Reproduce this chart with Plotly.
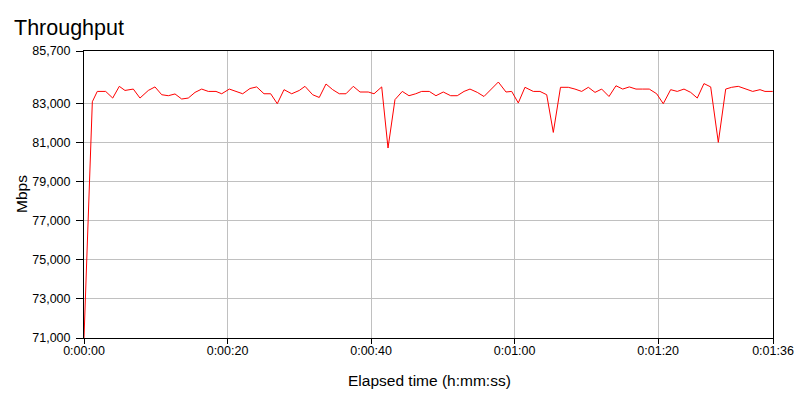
import plotly.graph_objects as go

# Elapsed time (seconds) and throughput (Mbps)
elapsed_s = [0.00, 1.16, 1.85, 3.02, 4.00, 4.92, 5.71, 6.87, 7.80, 8.96,
             9.89, 10.83, 11.75, 12.68, 13.61, 14.53, 15.47, 16.40, 17.32, 18.39,
             19.19, 20.25, 21.18, 22.11, 23.13, 24.06, 25.08, 26.01, 26.93, 27.87,
             28.94, 30.00, 30.79, 31.86, 32.78, 33.72, 34.65, 35.57, 36.50, 37.52,
             38.46, 39.61, 40.41, 41.48, 42.36, 43.33, 44.35, 45.28, 46.22, 47.05,
             48.11, 49.04, 50.06, 51.09, 52.01, 52.95, 53.78, 54.80, 55.73, 56.73,
             57.73, 58.80, 59.59, 60.51, 61.44, 62.60, 63.53, 64.47, 65.39, 66.39,
             67.48, 68.41, 69.34, 70.27, 71.20, 72.13, 73.15, 74.12, 75.06, 75.98,
             76.91, 77.84, 78.76, 79.79, 80.71, 81.74, 82.66, 83.60, 84.53, 85.45,
             86.38, 87.32, 88.38, 89.41, 90.24, 91.16, 92.10, 93.17, 94.19, 94.88,
             95.96]
throughput_mbps = [71000, 83100, 83630, 83630, 83290, 83890, 83680, 83750, 83290, 83680,
                   83860, 83460, 83410, 83500, 83240, 83290, 83580, 83750, 83630, 83630,
                   83510, 83750, 83630, 83510, 83780, 83860, 83510, 83510, 83000, 83720,
                   83510, 83680, 83890, 83460, 83320, 84010, 83720, 83510, 83510, 83890,
                   83600, 83600, 83510, 83860, 80730, 83210, 83630, 83410, 83510, 83630,
                   83630, 83410, 83600, 83410, 83410, 83630, 83750, 83580, 83370, 83740,
                   84110, 83600, 83630, 83040, 83840, 83630, 83630, 83460, 81530, 83840,
                   83840, 83750, 83630, 83840, 83580, 83750, 83370, 83920, 83750, 83860,
                   83750, 83750, 83750, 83510, 83000, 83720, 83630, 83750, 83580, 83290,
                   84030, 83860, 81020, 83750, 83840, 83890, 83750, 83630, 83720, 83630,
                   83630]

x_tick_vals = [0, 20, 40, 60, 80, 96]
x_tick_text = ["0:00:00", "0:00:20", "0:00:40", "0:01:00", "0:01:20", "0:01:36"]
y_tick_vals = [71000, 73000, 75000, 77000, 79000, 81000, 83000, 85700]

FONT = "Liberation Sans, Arial, sans-serif"

W, H = 800, 400
L, R, T, B = 84, 27, 51, 62
PW, PH = W - L - R, H - T - B


def px_to_paper(px, py):
    return (px - L) / PW, (H - B - py) / PH


fig = go.Figure()
fig.add_trace(go.Scatter(
    x=elapsed_s, y=throughput_mbps, mode="lines",
    line=dict(color="#ff0000", width=1), hoverinfo="x+y", showlegend=False,
))

mx, my = px_to_paper(21, 194)
ex, ey = px_to_paper(429, 380)

fig.update_layout(
    width=W, height=H,
    margin=dict(l=L, r=R, t=T, b=B, autoexpand=False),
    paper_bgcolor="white", plot_bgcolor="white",
    font=dict(family=FONT, color="black", size=12),
    title=dict(text="Throughput", x=14/W, xref="container", xanchor="left",
               y=1 - 27/H, yref="container", yanchor="middle",
               pad=dict(l=0, r=0, t=0, b=0),
               font=dict(family=FONT, size=21.5, color="black")),
    xaxis=dict(
        range=[0, 96], tickmode="array", tickvals=x_tick_vals, ticktext=x_tick_text,
        showgrid=True, gridcolor="#c0c0c0", gridwidth=1, zeroline=False,
        showline=True, linecolor="black", linewidth=1, mirror=True, automargin=False,
        ticks="outside", ticklen=5, tickcolor="black", tickfont=dict(size=12.5),
        ticklabelstandoff=-4,
    ),
    yaxis=dict(
        range=[71000, 85700], tickmode="array", tickvals=y_tick_vals, tickformat=",",
        showgrid=True, gridcolor="#c0c0c0", gridwidth=1, zeroline=False,
        showline=True, linecolor="black", linewidth=1, mirror=True, automargin=False,
        ticks="outside", ticklen=7, tickcolor="black", tickfont=dict(size=12.5),
        ticklabelstandoff=3,
    ),
    annotations=[
        dict(text="Mbps", x=mx, y=my, xref="paper", yref="paper",
             showarrow=False, textangle=-90, font=dict(size=15.5, family=FONT),
             xanchor="center", yanchor="middle"),
        dict(text="Elapsed time (h:mm:ss)", x=ex, y=ey,
             xref="paper", yref="paper", showarrow=False,
             font=dict(size=15.5, family=FONT), xanchor="center", yanchor="middle"),
    ],
)

fig.write_html("out.html", config={"displayModeBar": False},
               post_script="document.body.style.margin='0';")
